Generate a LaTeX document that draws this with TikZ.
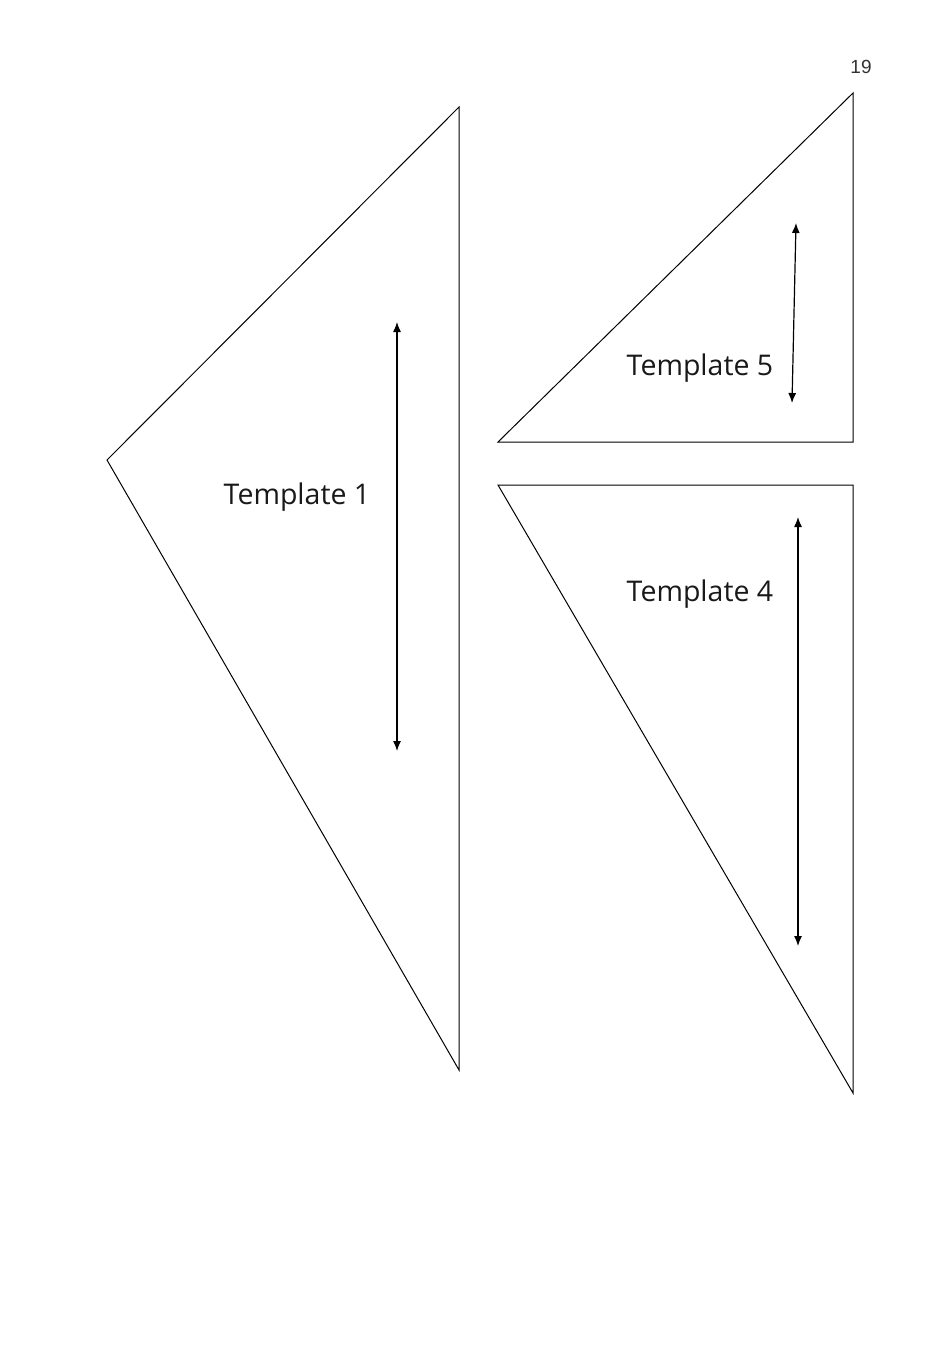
\documentclass[tikz,border=0pt]{standalone}
\usepackage{fontspec}
\setmainfont{Open Sans}
\newfontfamily\pagefont{Liberation Sans}
\usetikzlibrary{arrows.meta}
\begin{document}
\begin{tikzpicture}[x=1pt,y=-1pt,
  tri/.style={draw=black,line width=1pt,line join=miter},
  dim/.style={draw=black,line width=1.2pt,{Latex[length=10pt,width=8pt]}-{Latex[length=10pt,width=8pt]}},
  lbl/.style={font=\fontsize{28.5}{32}\selectfont,inner sep=0pt,text=black!90}]
\useasboundingbox (0,0) rectangle (950,1345);
% Template 1
\coordinate (t1a) at (459,107);
\coordinate (t1b) at (107,460);
\coordinate (t1c) at (459,1070);
\draw[tri] (t1a) -- (t1b) -- (t1c) -- cycle;
\coordinate (a1s) at (397,322);
\coordinate (a1e) at (397,751);
\draw[dim] (a1s) -- (a1e);
\node[lbl] (l1) at (297,497) {Template 1};
% Template 5
\coordinate (t5a) at (853,93);
\coordinate (t5b) at (498,442);
\coordinate (t5c) at (853,442);
\draw[tri] (t5a) -- (t5b) -- (t5c) -- cycle;
\coordinate (a5s) at (796,223);
\coordinate (a5e) at (792,403);
\draw[dim] (a5s) -- (a5e);
\node[lbl] (l5) at (700,368) {Template 5};
% Template 4
\coordinate (t4a) at (498,485);
\coordinate (t4b) at (853,485);
\coordinate (t4c) at (853,1093);
\draw[tri] (t4a) -- (t4b) -- (t4c) -- cycle;
\coordinate (a4s) at (798,517);
\coordinate (a4e) at (798,946);
\draw[dim] (a4s) -- (a4e);
\node[lbl] (l4) at (700,594) {Template 4};
% page number
\node[font=\pagefont\fontsize{19}{22}\selectfont,inner sep=0pt,text=black!80] (pg) at (861,67) {19};
\end{tikzpicture}
\end{document}
